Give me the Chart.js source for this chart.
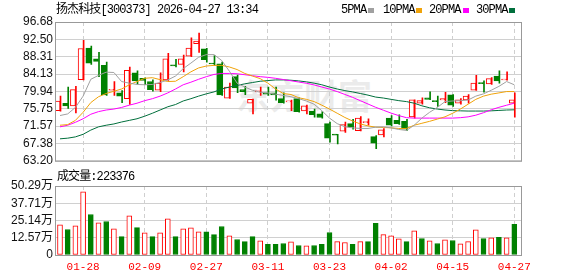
<!DOCTYPE html>
<html>
<head>
<meta charset="utf-8">
<script src="https://cdn.jsdelivr.net/npm/chart.js@4.4.1/dist/chart.umd.min.js"></script>
<style>
body { margin: 0; background: #fff; }
#wrap { position: relative; width: 578px; height: 276px; overflow: hidden; }
canvas { position: absolute; left: 0; }
#kline { top: 0; }
#vol { top: 170px; }
.txt { position: absolute; white-space: nowrap; font-size: 12px; line-height: 14px; color: #000;
       font-family: 'Liberation Mono', 'Noto Sans CJK SC', monospace; letter-spacing: -0.9px; }
.sq { position: absolute; width: 6px; height: 5px; top: 8px; }
#wm { position: absolute; left: 236px; top: 70px; font-size: 34px; font-weight: bold; color: #ebebeb;
      font-family: 'Noto Sans CJK SC', sans-serif; white-space: nowrap; }
</style>
</head>
<body>
<div id="wrap">
  <div id="wm">东方财富</div>
  <canvas id="kline" width="578" height="170"></canvas>
  <canvas id="vol" width="578" height="106"></canvas>
  <div class="txt" style="left:56px;top:3px">扬杰科技[300373] 2026-04-27 13:34</div>
  <div class="txt" style="left:341px;top:3px">5PMA</div>
  <div class="sq" style="left:368px;background:#a0a0a0"></div>
  <div class="txt" style="left:383px;top:3px">10PMA</div>
  <div class="sq" style="left:416px;background:#f0a30a"></div>
  <div class="txt" style="left:429px;top:3px">20PMA</div>
  <div class="sq" style="left:463px;background:#ff00ff"></div>
  <div class="txt" style="left:476px;top:3px">30PMA</div>
  <div class="sq" style="left:509px;background:#006f3c"></div>
  <div class="txt" style="left:57px;top:170px">成交量:223376</div>
</div>
<script>
// trading days shown
const dates = ['01-23','01-26','01-27','01-28','01-29','01-30','02-02','02-03','02-04','02-05',
  '02-06','02-09','02-10','02-11','02-12','02-13','02-24','02-25','02-26','02-27',
  '03-02','03-03','03-04','03-05','03-06','03-09','03-10','03-11','03-12','03-13',
  '03-16','03-17','03-18','03-19','03-20','03-23','03-24','03-25','03-26','03-27',
  '03-30','03-31','04-01','04-02','04-03','04-07','04-08','04-09','04-10','04-13',
  '04-14','04-15','04-16','04-17','04-20','04-21','04-22','04-23','04-24','04-27']

// candles
const open = [75.29,77.09,76.46,82.78,90.36,87.78,86.22,80.21,79.58,78.18,
  84.42,83.10,82.32,80.21,82.71,86.22,86.45,88.41,91.45,90.20,
  86.70,86.61,78.33,83.49,80.37,77.09,79.82,79.58,79.58,78.18,
  77.40,78.18,75.21,75.21,74.51,72.17,69.50,70.37,72.17,70.45,
  72.40,69.05,69.44,73.50,72.95,72.72,73.81,77.09,78.41,77.71,
  77.90,79.12,77.09,77.88,80.21,82.00,81.77,83.64,82.70,77.09]
const high = [78.80,80.99,81.15,92.23,90.90,89.34,87.00,82.32,80.13,85.83,
  84.89,83.20,82.71,84.42,89.11,87.65,88.72,92.85,94.03,90.30,
  88.56,87.00,81.93,83.88,81.15,78.10,80.99,80.99,80.99,79.58,
  77.82,78.41,76.62,75.68,75.06,72.56,69.60,72.56,73.18,73.88,
  73.34,69.28,71.00,74.12,74.28,73.18,77.90,78.41,79.82,78.80,
  79.74,79.20,78.18,79.16,83.80,82.47,83.25,84.89,84.66,79.58]
const low = [75.20,75.84,74.75,82.70,86.45,83.49,78.96,78.96,77.24,76.77,
  81.77,81.54,80.00,79.90,82.60,85.83,84.66,88.30,89.34,87.00,
  86.22,78.96,78.25,79.61,79.16,74.51,78.96,78.96,77.82,77.10,
  75.29,74.90,74.51,73.73,73.50,67.70,67.25,70.06,70.84,70.40,
  71.81,66.12,68.97,71.62,72.00,70.53,73.50,76.85,77.95,76.31,
  77.24,76.31,76.85,77.09,80.15,79.74,81.60,81.93,82.65,73.73]
const close = [77.63,76.46,80.37,90.28,86.77,87.16,79.12,80.37,78.80,85.05,
  82.47,82.60,80.37,81.93,87.78,86.10,87.78,90.36,92.07,87.62,
  86.55,79.12,80.99,80.76,79.90,78.02,79.90,79.27,79.12,77.24,
  77.50,75.06,76.46,74.35,73.65,68.66,69.40,71.93,71.39,73.50,
  72.56,67.48,70.68,71.78,72.17,70.84,77.88,77.71,78.02,77.48,
  78.18,76.62,77.88,78.80,81.93,81.80,83.02,82.47,82.86,77.88]

// moving averages
const ma5 = [74.12,74.51,76.07,78.80,82.86,83.80,84.58,84.50,82.32,81.93,
  81.61,81.54,81.61,82.08,82.71,83.64,85.44,86.77,88.17,88.81,
  88.81,87.39,84.81,81.93,80.99,80.21,79.74,79.58,79.27,78.96,
  78.65,78.18,77.63,76.85,75.29,73.50,72.17,71.39,71.15,71.00,
  71.00,71.31,71.39,71.15,70.76,70.53,71.78,73.50,74.90,76.07,
  77.48,77.63,77.71,77.86,78.80,79.35,80.21,81.15,82.32,81.54]
const ma10 = [71.78,71.93,72.95,74.90,77.24,78.65,79.43,79.97,80.52,81.54,
  82.32,83.10,83.25,82.78,82.32,82.39,83.49,84.66,85.60,86.06,
  86.22,86.22,85.83,85.21,84.27,83.64,83.02,81.93,80.52,79.43,
  79.19,78.41,78.02,77.48,76.62,75.68,74.67,73.65,72.79,72.09,
  71.62,71.31,71.23,71.15,71.00,71.00,71.78,72.25,72.72,73.26,
  73.81,74.67,75.68,76.85,78.02,78.80,79.27,79.58,79.90,79.90]
const ma20 = [71.39,71.78,72.48,73.34,74.43,75.06,75.45,75.68,76.07,76.62,
  77.09,77.71,78.18,78.80,79.58,80.52,81.54,82.16,82.86,83.49,
  84.03,84.27,84.27,84.19,83.96,83.72,83.49,83.33,83.10,82.80,
  82.50,82.20,81.90,81.50,81.00,80.50,79.90,79.20,78.50,77.70,
  76.90,76.10,75.40,74.70,74.10,73.60,73.50,73.50,73.50,73.50,
  73.50,73.50,73.60,73.80,74.20,74.80,75.50,76.10,76.60,77.10]
const ma30 = [68.50,68.66,68.97,69.59,70.61,71.39,71.78,72.09,72.56,72.95,
  73.34,73.96,74.67,75.45,76.23,76.77,77.63,78.18,78.80,79.35,
  79.82,80.52,80.99,81.38,81.77,82.08,82.39,82.55,82.71,82.71,
  82.63,82.47,82.24,81.93,81.54,80.99,80.52,80.13,79.82,79.43,
  79.04,78.57,78.34,78.02,77.71,77.48,77.09,76.46,75.99,75.68,
  75.45,75.30,75.25,75.20,75.20,75.20,75.25,75.35,75.45,75.50]

// volume, 万手
const vol = [22.0,18.6,21.3,46.0,29.5,23.4,24.4,19.1,13.4,28.5,
  20.0,16.2,13.4,16.2,26.4,13.4,19.1,19.8,16.9,16.9,
  14.9,20.8,14.0,11.3,9.8,13.4,10.3,7.7,7.7,8.4,
  9.6,6.9,6.7,6.9,7.7,16.4,9.8,9.1,7.7,9.8,
  9.8,23.0,14.9,14.0,11.8,9.8,17.6,12.0,10.3,8.4,
  11.1,10.6,8.1,9.8,18.3,12.0,12.5,12.8,12.5,22.34]

// axis ticks
const priceTicks = [96.68,92.50,88.31,84.13,79.94,75.75,71.57,67.38,63.20]
const volTicks = [50.29,37.71,25.14,12.57,0]
const labelIdx = [3,11,19,27,35,43,51,59]

const RED = '#ff0000', GREEN = '#008000'
const xMin = -0.65, xMax = 60

const up = close.map((c, i) => c >= open[i])
const volUp = close.map((c, i) => i == 0 || c >= close[i - 1])

//frame round the plot area
const framePlugin = {
    id: 'frame',
    afterDraw(chart) {
        const a = chart.chartArea, ctx = chart.ctx
        ctx.save()
        ctx.strokeStyle = '#999'
        ctx.lineWidth = 1
        ctx.strokeRect(a.left + 0.5, a.top + 0.5, a.right - a.left - 1, a.bottom - a.top)
        ctx.restore()
    }
}

function xScale(showLabels) {
    return {
        type: 'linear', min: xMin, max: xMax, offset: false,
        afterBuildTicks: s => { s.ticks = labelIdx.map(v => ({ value: v })) },
        afterFit: s => { s.height = showLabels ? 21 : 5 },
        grid: { color: '#cfcfcf', drawTicks: false, offset: false },
        border: { display: false, dash: [4, 3] },
        ticks: {
            display: showLabels, autoSkip: false, maxRotation: 0, padding: 5,
            color: RED, font: { family: "'Liberation Mono', monospace", size: 11 },
            callback: v => dates[v]
        }
    }
}

function maLine(arr, color) {
    return {
        type: 'line', order: 0,
        data: arr.map((v, i) => ({ x: i, y: v })),
        borderColor: color, borderWidth: 1, pointRadius: 0, tension: 0
    }
}

const tickFont = { family: "'Liberation Sans', 'Noto Sans CJK SC', sans-serif", size: 12 }

new Chart(document.getElementById('kline'), {
    type: 'bar',
    data: {
        datasets: [
            maLine(ma5, '#a0a0a0'),
            maLine(ma10, '#f0a30a'),
            maLine(ma20, '#ff00ff'),
            maLine(ma30, '#006f3c'),
            {
                order: 1,
                data: open.map((o, i) => ({ x: i, y: [o, close[i]] })),
                barThickness: 5, minBarLength: 1, borderWidth: 1, borderSkipped: false,
                backgroundColor: up.map(u => u ? '#fff' : GREEN),
                borderColor: up.map(u => u ? RED : GREEN)
            },
            {
                order: 2,
                data: low.map((l, i) => ({ x: i, y: [l, high[i]] })),
                barThickness: 1, borderWidth: 0,
                backgroundColor: up.map(u => u ? RED : GREEN)
            }
        ]
    },
    options: {
        responsive: false, animation: false,
        layout: { padding: { top: 22, right: 56, bottom: 0, left: 0 } },
        plugins: { legend: { display: false }, tooltip: { enabled: false } },
        scales: {
            x: xScale(false),
            y: {
                min: 63.20, max: 96.68,
                afterBuildTicks: s => { s.ticks = priceTicks.map(v => ({ value: v })) },
                afterFit: s => { s.width = 55 },
                grid: { color: '#d0d0d0', drawTicks: false },
                border: { display: false },
                ticks: { autoSkip: false, padding: 2, color: '#111', font: tickFont, callback: v => v.toFixed(2) }
            }
        }
    },
    plugins: [framePlugin]
})

new Chart(document.getElementById('vol'), {
    type: 'bar',
    data: {
        datasets: [{
            data: vol.map((v, i) => ({ x: i, y: v })),
            barThickness: 5, borderWidth: 1, borderSkipped: false,
            backgroundColor: volUp.map(u => u ? '#fff' : GREEN),
            borderColor: volUp.map(u => u ? RED : GREEN)
        }]
    },
    options: {
        responsive: false, animation: false,
        layout: { padding: { top: 16, right: 56, bottom: 0, left: 0 } },
        plugins: { legend: { display: false }, tooltip: { enabled: false } },
        scales: {
            x: xScale(true),
            y: {
                min: 0, max: 50.29,
                afterBuildTicks: s => { s.ticks = volTicks.map(v => ({ value: v })) },
                afterFit: s => { s.width = 55 },
                grid: { color: '#d0d0d0', drawTicks: false },
                border: { display: false },
                ticks: { autoSkip: false, padding: 2, color: '#111', font: tickFont,
                    callback: v => v == 0 ? '0' : v.toFixed(2) + '万' }
            }
        }
    },
    plugins: [framePlugin]
})
</script>
</body>
</html>
